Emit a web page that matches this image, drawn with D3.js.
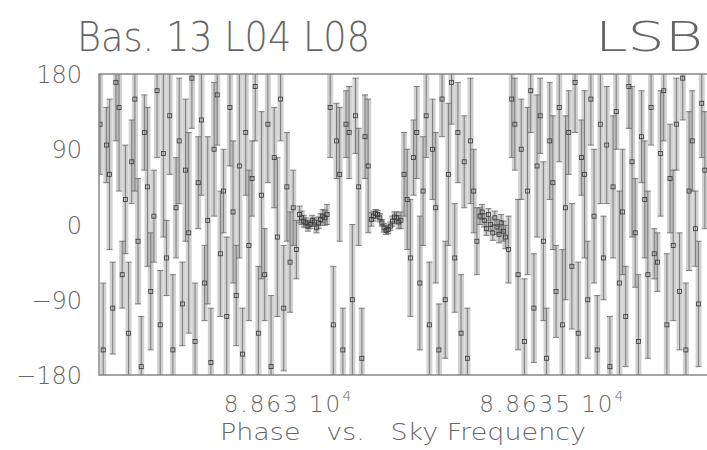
<!DOCTYPE html>
<html>
<head>
<meta charset="utf-8">
<script src="https://cdn.jsdelivr.net/npm/d3@7"></script>
<style>
  body { margin: 0; background: #fff; }
  text { font-family: "DejaVu Sans", sans-serif; font-weight: 200; fill: #666; }
</style>
</head>
<body>
<svg id="chart"></svg>
<script>
// Canvas size
const width = 707;
const height = 450;

// Title pieces and axis labels
const titleLeft = "Bas. 13 L04 L08";
const titleRight = "LSB";
const xTitle = "Phase   vs.   Sky Frequency";
const yTicks = [-180, -90, 0, 90, 180];
const xTicks = [88630, 88635];
const xTickLabels = ["8.863", "8.8635"];

// Sky frequency of each channel (MHz)
const skyFreq = [
  // noisy band left
  88626.44, 88626.50, 88626.56, 88626.62, 88626.68, 88626.74, 88626.80, 88626.86, 88626.92, 88626.98,
  88627.04, 88627.10, 88627.16, 88627.22, 88627.28, 88627.34, 88627.40, 88627.46, 88627.52, 88627.58,
  88627.64, 88627.70, 88627.76, 88627.82, 88627.88, 88627.94, 88628.00, 88628.06, 88628.12, 88628.18,
  88628.24, 88628.30, 88628.36, 88628.42, 88628.48, 88628.54, 88628.60, 88628.66, 88628.72, 88628.78,
  88628.84, 88628.90, 88628.96, 88629.02, 88629.08, 88629.14, 88629.20, 88629.26, 88629.32, 88629.38,
  88629.44, 88629.50, 88629.56, 88629.62, 88629.68, 88629.74, 88629.80, 88629.86, 88629.92, 88629.98,
  88630.04, 88630.10, 88630.16,
  // first line
  88630.22, 88630.26, 88630.30, 88630.34, 88630.38, 88630.42, 88630.46, 88630.50, 88630.54, 88630.58,
  88630.62, 88630.66, 88630.70, 88630.74,
  // noisy gap
  88630.80, 88630.86, 88630.92, 88630.98, 88631.04, 88631.10, 88631.16, 88631.22, 88631.28, 88631.34,
  88631.40, 88631.46, 88631.52,
  // second line
  88631.58, 88631.62, 88631.66, 88631.70, 88631.74, 88631.78, 88631.82, 88631.86, 88631.90, 88631.94,
  88631.98, 88632.02, 88632.06, 88632.10, 88632.14,
  // noisy gap
  88632.20, 88632.26, 88632.32, 88632.38, 88632.44, 88632.50, 88632.56, 88632.62, 88632.68, 88632.74,
  88632.80, 88632.86, 88632.92, 88632.98, 88633.04, 88633.10, 88633.16, 88633.22, 88633.28, 88633.34,
  88633.40, 88633.46, 88633.52, 88633.58,
  // third line
  88633.64, 88633.68, 88633.72, 88633.76, 88633.80, 88633.84, 88633.88, 88633.92, 88633.96, 88634.00,
  88634.04, 88634.08, 88634.12,
  // noisy band right
  88634.18, 88634.24, 88634.30, 88634.36, 88634.42, 88634.48, 88634.54, 88634.60, 88634.66, 88634.72,
  88634.78, 88634.84, 88634.90, 88634.96, 88635.02, 88635.08, 88635.14, 88635.20, 88635.26, 88635.32,
  88635.38, 88635.44, 88635.50, 88635.56, 88635.62, 88635.68, 88635.74, 88635.80, 88635.86, 88635.92,
  88635.98, 88636.04, 88636.10, 88636.16, 88636.22, 88636.28, 88636.34, 88636.40, 88636.46, 88636.52,
  88636.58, 88636.64, 88636.70, 88636.76, 88636.82, 88636.88, 88636.94, 88637.00, 88637.06, 88637.12,
  88637.18, 88637.24, 88637.30, 88637.36, 88637.42, 88637.48, 88637.54, 88637.60, 88637.66, 88637.72,
  88637.78, 88637.84, 88637.90
];

// Phase (deg) per channel
const phase = [
  120, -150, 95, 60, -100, 170, 140, -60, 30, -130,
  75, 150, -20, -170, 110, 45, -80, 10, 160, -120,
  85, -40, 130, -150, 20, 100, -95, 65, -10, 175,
  -140, 50, 125, -70, 5, -165, 90, 155, -35, 40,
  -110, 140, 15, -85, 70, -155, 110, -25, 55, 165,
  -130, 35, -60, 120, -170, 80, -15, 150, -100, 45,
  -45, 20, -30,
  12, 8, 4, 2, -2, 0, 5, 3, -4, 2,
  6, 10, 8, 12,
  140, -120, 100, 60, -150, 120, 110, -90, 130, 45,
  -160, 105, 70,
  6, 10, 13, 12, 8, 2, -4, -7, -6, -2,
  4, 9, 8, 3, 5,
  60, 30, -40, 80, 110, -70, 40, 130, -120, 90,
  20, -150, 150, -90, 60, 170, -40, 110, -130, 75,
  -160, 100, 40, -20,
  10, 15, 5, -5, 12, 0, -10, 8, -3, -12,
  2, -8, -15,
  -30, 150, 120, -60, 90, -140, 40, 160, -100, 70,
  130, -20, -160, 100, 50, -80, 140, -120, 20, 110,
  -50, 170, -130, 80, 60, -90, 150, 10, -150, 120,
  -40, 95, -170, 45, 135, -70, 15, -110, 165, 75,
  -10, -140, 105, 30, -60, 140, -35, -45, 85, 160,
  -120, 55, -25, 120, -80, 175, -150, 40, 100, -5,
  -95, 145, 65
];

// Phase error (deg) per channel
const phaseErr = [
  60, 80, 45, 90, 55, 70, 100, 40, 65, 85,
  50, 110, 75, 60, 45, 95, 70, 55, 80, 65,
  100, 45, 70, 90, 60, 75, 50, 85, 120, 60,
  70, 55, 90, 45, 100, 65, 80, 60, 75, 50,
  95, 70, 85, 60, 110, 55, 75, 90, 45, 65,
  80, 100, 55, 70, 85, 60, 95, 50, 75, 65,
  60, 45, 35,
  10, 8, 7, 6, 6, 5, 6, 5, 6, 7,
  7, 8, 9, 12,
  60, 70, 45, 80, 50, 40, 55, 90, 45, 70,
  60, 50, 80,
  8, 6, 5, 5, 5, 4, 5, 5, 5, 5,
  6, 6, 7, 8, 10,
  50, 60, 70, 45, 55, 80, 65, 50, 75, 60,
  90, 55, 45, 70, 85, 50, 65, 60, 70, 55,
  60, 75, 50, 40,
  10, 9, 8, 8, 7, 8, 9, 8, 9, 10,
  10, 12, 14,
  40, 70, 55, 90, 60, 75, 100, 50, 65, 85,
  45, 95, 60, 70, 80, 55, 65, 90, 110, 50,
  75, 60, 85, 45, 100, 70, 55, 80, 65, 95,
  50, 70, 60, 85, 45, 110, 75, 60, 50, 90,
  65, 80, 55, 70, 100, 45, 30, 35, 75, 60,
  85, 65, 90, 55, 70, 50, 80, 95, 60, 45,
  75, 65, 70
];

const data = skyFreq.map((f, i) => ({ f: f, p: phase[i], e: phaseErr[i] }));

const svg = d3.select("#chart")
    .attr("width", width)
    .attr("height", height)
    .style("background", "#fff");

// Plot box
const plotLeft = 99, plotTop = 74, plotBottom = 375, plotRight = 720;

const xScale = d3.scaleLinear()
    .domain([88626.42, 88637.94])
    .range([plotLeft, 707]);

const yScale = d3.scaleLinear()
    .domain([-180, 180])
    .range([plotBottom, plotTop]);

svg.append("clipPath").attr("id", "plotClip")
  .append("rect")
    .attr("x", plotLeft).attr("y", plotTop)
    .attr("width", plotRight - plotLeft).attr("height", plotBottom - plotTop);

const plot = svg.append("g").attr("clip-path", "url(#plotClip)");

const hi = d => yScale(Math.min(180, d.p + d.e));
const lo = d => yScale(Math.max(-180, d.p - d.e));

// Gray error boxes
plot.selectAll(".box")
  .data(data)
  .enter().append("rect")
    .attr("class", "box")
    .attr("x", d => xScale(d.f) - 3)
    .attr("width", 6)
    .attr("y", hi)
    .attr("height", d => lo(d) - hi(d))
    .attr("fill", "#a4a4a4")
    .attr("fill-opacity", 0.5);

// Error bar stems
plot.selectAll(".stem")
  .data(data)
  .enter().append("line")
    .attr("class", "stem")
    .attr("x1", d => xScale(d.f)).attr("x2", d => xScale(d.f))
    .attr("y1", hi).attr("y2", lo)
    .attr("stroke", "#666")
    .attr("stroke-width", 0.8);

// Caps (only when the bar end is inside the range)
plot.selectAll(".capTop")
  .data(data.filter(d => d.p + d.e < 180))
  .enter().append("line")
    .attr("x1", d => xScale(d.f) - 3).attr("x2", d => xScale(d.f) + 3)
    .attr("y1", hi).attr("y2", hi)
    .attr("stroke", "#666").attr("stroke-width", 0.8);

plot.selectAll(".capBot")
  .data(data.filter(d => d.p - d.e > -180))
  .enter().append("line")
    .attr("x1", d => xScale(d.f) - 3).attr("x2", d => xScale(d.f) + 3)
    .attr("y1", lo).attr("y2", lo)
    .attr("stroke", "#666").attr("stroke-width", 0.8);

// Open square markers
plot.selectAll(".mark")
  .data(data)
  .enter().append("rect")
    .attr("class", "mark")
    .attr("x", d => xScale(d.f) - 2)
    .attr("y", d => yScale(d.p) - 2)
    .attr("width", 4).attr("height", 4)
    .attr("fill", "none")
    .attr("stroke", "#333")
    .attr("stroke-width", 0.8);

// Frame
svg.append("path")
    .attr("d", `M${plotRight},${plotTop}H${plotLeft}V${plotBottom}H${plotRight}`)
    .attr("fill", "none")
    .attr("stroke", "#888")
    .attr("stroke-width", 1.5);

// Y axis
const yAxis = svg.append("g")
    .attr("transform", `translate(${plotLeft},0)`)
    .call(d3.axisLeft(yScale).tickValues(yTicks).tickSize(0).tickPadding(17));
yAxis.select(".domain").remove();
yAxis.selectAll("text")
    .style("font-size", "24px")
    .attr("dy", "0.36em");

// X axis
const xAxis = svg.append("g")
    .attr("transform", `translate(0,${plotBottom})`)
    .call(d3.axisBottom(xScale).tickValues(xTicks).tickSize(0).tickFormat(""));
xAxis.select(".domain").remove();
xAxis.selectAll(".tick").each(function(d, i) {
  const t = d3.select(this).append("text")
      .attr("y", 37)
      .attr("text-anchor", "middle")
      .style("font-size", "23px")
      .style("letter-spacing", "2px");
  t.append("tspan").text(xTickLabels[i] + " 10");
  t.append("tspan").attr("dy", -11).style("font-size", "14px").text("4");
});

// Axis title
svg.append("text")
    .attr("x", 220).attr("y", 440)
    .attr("textLength", 366)
    .attr("lengthAdjust", "spacingAndGlyphs")
    .style("font-size", "23px")
    .style("white-space", "pre")
    .text(xTitle);

// Title
svg.append("text")
    .attr("x", 77).attr("y", 51)
    .attr("textLength", 293)
    .attr("lengthAdjust", "spacingAndGlyphs")
    .style("font-size", "41px")
    .text(titleLeft);

svg.append("text")
    .attr("x", 595).attr("y", 51)
    .attr("textLength", 108)
    .attr("lengthAdjust", "spacingAndGlyphs")
    .style("font-size", "41px")
    .text(titleRight);
</script>
</body>
</html>
